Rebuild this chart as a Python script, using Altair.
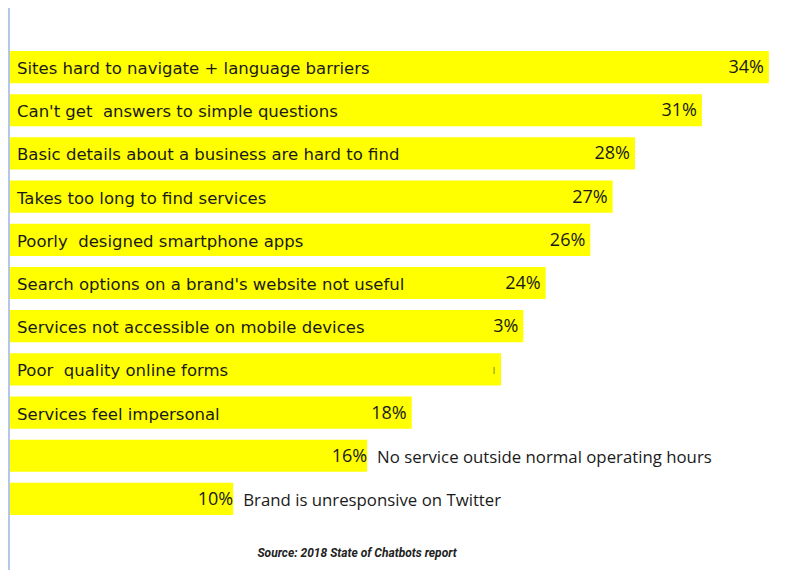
import altair as alt
import pandas as pd

categories = [
    "Sites hard to navigate + language barriers",
    "Can't get  answers to simple questions",
    "Basic details about a business are hard to find",
    "Takes too long to find services",
    "Poorly  designed smartphone apps",
    "Search options on a brand's website not useful",
    "Services not accessible on mobile devices",
    "Poor  quality online forms",
    "Services feel impersonal",
    "No service outside normal operating hours",
    "Brand is unresponsive on Twitter",
]
values = [34, 31, 28, 27, 26, 24, 23, 22, 18, 16, 10]
pct_labels = ["34%", "31%", "28%", "27%", "26%", "24%", "3%", "|", "18%", "16%", "10%"]
source_note = "Source: 2018 State of Chatbots report"

df = pd.DataFrame({
    "category": categories,
    # keep the double spaces visible in SVG
    "shown": [c.replace("  ", " \u00a0") for c in categories],
    "value": values,
    "pct": pct_labels,
})

W, H = 784, 562

x_scale = alt.Scale(domain=[0, 34.7], range=[2, 776.5])
y_enc = alt.Y(
    "category:N",
    sort=categories,
    scale=alt.Scale(range=[43, 507], paddingInner=0.255, paddingOuter=0),
    axis=None,
)

base = alt.Chart(df)

bars = base.mark_bar(color="#FFFF00").encode(
    x=alt.X("value:Q", scale=x_scale, axis=None),
    y=y_enc,
)

inside_labels = base.transform_filter("datum.value >= 17").mark_text(
    align="left", baseline="middle", dx=7, dy=2,
    font="DejaVu Sans", fontSize=16.5, color="#1a1a1a",
).encode(x=alt.datum(0, scale=x_scale), y=y_enc, text="shown:N")

outside_labels = base.transform_filter("datum.value < 17").mark_text(
    align="left", baseline="middle", dx=10, dy=2,
    font="Open Sans", fontSize=16.8, color="#1a1a1a",
).encode(x=alt.X("value:Q", scale=x_scale), y=y_enc, text="shown:N")

pct_size = alt.condition("datum.pct == '|'", alt.value(8), alt.value(18))

pct_inside = base.transform_filter("datum.value >= 17").mark_text(
    align="right", baseline="middle", dx=-5, dy=1,
    font="Open Sans", color="#1a1a1a",
).encode(x=alt.X("value:Q", scale=x_scale), y=y_enc, text="pct:N", size=pct_size)

pct_outside = base.transform_filter("datum.value < 17").mark_text(
    align="right", baseline="middle", dx=0, dy=1,
    font="Open Sans", fontSize=18, color="#1a1a1a",
).encode(x=alt.X("value:Q", scale=x_scale), y=y_enc, text="pct:N")

note = alt.Chart(pd.DataFrame({"t": [source_note]})).mark_text(
    align="center", baseline="middle",
    font="Liberation Sans Narrow, Roboto, sans-serif",
    fontSize=12, fontStyle="italic", fontWeight="bold", color="#222222",
).encode(x=alt.datum(15.55, scale=x_scale), y=alt.value(545), text="t:N")

left_line = alt.Chart(pd.DataFrame({"a": [0]})).mark_rule(
    color="#b4c7e7", strokeWidth=2
).encode(x=alt.value(1), y=alt.value(0), y2=alt.value(H))

chart = alt.layer(
    left_line, bars, inside_labels, outside_labels, pct_inside, pct_outside, note
).properties(
    width=W, height=H, padding=0,
    autosize=alt.AutoSizeParams(type="none"),
    background="white",
).configure_view(stroke=None)

chart.save("out.html", embed_options={"renderer": "svg", "actions": False})
